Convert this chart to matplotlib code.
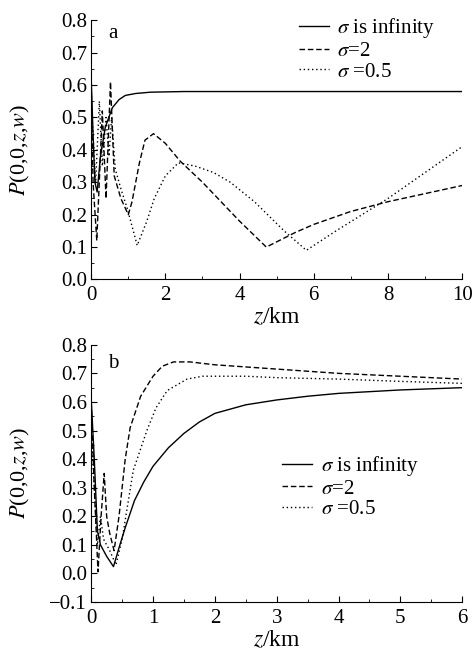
import numpy as np
import matplotlib
matplotlib.use("Agg")
import matplotlib.pyplot as plt
from matplotlib.ticker import MultipleLocator

plt.rcParams['font.family'] = ['Liberation Serif', 'DejaVu Serif']
plt.rcParams['mathtext.fontset'] = 'stix'

# panel a: z (km) and P values
za_inf = [0.0, 0.05, 0.1, 0.16, 0.25, 0.38, 0.57, 0.75, 0.92, 1.2, 1.6, 2.5, 4.0, 10.0]
pa_inf = [0.62, 0.45, 0.3, 0.27, 0.38, 0.47, 0.53, 0.555, 0.568, 0.574, 0.578, 0.58, 0.58, 0.58]

za_s2 = [0.0, 0.05, 0.15, 0.3, 0.4, 0.52, 0.62, 0.8, 1.0, 1.1, 1.3, 1.45, 1.68, 2.0,
         2.4, 3.0, 3.5, 4.0, 4.72, 5.5, 6.0, 7.0, 8.0, 9.0, 10.0]
pa_s2 = [0.6, 0.3, 0.12, 0.52, 0.25, 0.61, 0.32, 0.25, 0.2, 0.24, 0.36, 0.43, 0.45, 0.42,
         0.365, 0.3, 0.24, 0.18, 0.1, 0.145, 0.17, 0.21, 0.24, 0.265, 0.29]

za_s05 = [0.0, 0.12, 0.22, 0.3, 0.4, 0.48, 0.55, 0.65, 0.8, 0.97, 1.24, 1.5, 1.7, 2.0,
          2.35, 2.8, 3.3, 3.75, 4.4, 5.2, 5.8, 6.6, 8.0, 9.0, 10.0]
pa_s05 = [0.55, 0.3, 0.55, 0.35, 0.5, 0.38, 0.5, 0.34, 0.28, 0.22, 0.105, 0.18, 0.25, 0.32,
          0.36, 0.35, 0.33, 0.3, 0.24, 0.15, 0.09, 0.15, 0.25, 0.33, 0.41]

# panel b
zb_inf = [0.0, 0.05, 0.1, 0.15, 0.25, 0.36, 0.45, 0.55, 0.7, 0.85, 1.0, 1.25, 1.5, 1.75,
          2.0, 2.5, 3.0, 3.5, 4.0, 5.0, 6.0]
pb_inf = [0.61, 0.4, 0.15, 0.1, 0.06, 0.024, 0.09, 0.16, 0.255, 0.32, 0.375, 0.44, 0.49, 0.53,
          0.56, 0.59, 0.607, 0.62, 0.63, 0.642, 0.65]

zb_s2 = [0.0, 0.05, 0.11, 0.16, 0.21, 0.25, 0.3, 0.37, 0.45, 0.55, 0.63, 0.8, 1.0, 1.15,
         1.33, 1.6, 2.0, 3.0, 4.0, 5.0, 6.0]
pb_s2 = [0.6, 0.3, 0.006, 0.2, 0.35, 0.2, 0.14, 0.08, 0.2, 0.4, 0.51, 0.62, 0.69, 0.725,
         0.74, 0.74, 0.73, 0.715, 0.7, 0.69, 0.68]

zb_s05 = [0.0, 0.05, 0.1, 0.15, 0.2, 0.3, 0.4, 0.5, 0.68, 0.9, 1.05, 1.23, 1.55, 1.8,
          2.5, 3.0, 4.0, 5.0, 6.0]
pb_s05 = [0.5, 0.3, 0.1, 0.2, 0.12, 0.08, 0.03, 0.12, 0.36, 0.5, 0.58, 0.64, 0.68, 0.69,
          0.69, 0.685, 0.68, 0.672, 0.665]

labels = [r"$\sigma$ is infinity", r"$\sigma$=2", r"$\sigma$ =0.5"]

fig = plt.figure(figsize=(4.75, 6.53), dpi=100)
ax1 = fig.add_axes([0.192, 0.572, 0.781, 0.397])
ax2 = fig.add_axes([0.192, 0.078, 0.781, 0.394])

ls_dash = (0, (4, 2))
ls_dot = (0, (1, 2))
fs = 15
leg_kw = dict(frameon=False, fontsize=fs, handlelength=1.45, handletextpad=0.4,
              labelspacing=0.05, borderpad=0, borderaxespad=0, loc='upper left')

ax1.plot(za_inf, pa_inf, color='black', lw=1.0, label=labels[0])
ax1.plot(za_s2, pa_s2, color='black', lw=1.0, ls=ls_dash, label=labels[1])
ax1.plot(za_s05, pa_s05, color='black', lw=1.0, ls=ls_dot, label=labels[2])
ax1.set_xlim(0, 10)
ax1.set_ylim(0, 0.8)
ax1.xaxis.set_major_locator(MultipleLocator(2))
ax1.xaxis.set_minor_locator(MultipleLocator(1))
ax1.yaxis.set_major_locator(MultipleLocator(0.1))
ax1.yaxis.set_minor_locator(MultipleLocator(0.05))
ax1.text(0.45, 0.745, "a", fontsize=fs)
ax1.legend(bbox_to_anchor=(0.56, 1.015), **leg_kw)

ax2.plot(zb_inf, pb_inf, color='black', lw=1.0, label=labels[0])
ax2.plot(zb_s2, pb_s2, color='black', lw=1.0, ls=ls_dash, label=labels[1])
ax2.plot(zb_s05, pb_s05, color='black', lw=1.0, ls=ls_dot, label=labels[2])
ax2.set_xlim(0, 6)
ax2.set_ylim(-0.1, 0.8)
ax2.xaxis.set_major_locator(MultipleLocator(1))
ax2.xaxis.set_minor_locator(MultipleLocator(0.5))
ax2.yaxis.set_major_locator(MultipleLocator(0.1))
ax2.yaxis.set_minor_locator(MultipleLocator(0.05))
ax2.text(0.27, 0.72, "b", fontsize=fs)
ax2.legend(bbox_to_anchor=(0.515, 0.575), **leg_kw)

for ax in (ax1, ax2):
    ax.spines['top'].set_visible(False)
    ax.spines['right'].set_visible(False)
    ax.tick_params(which='both', direction='in', labelsize=fs)
    ax.tick_params(axis='x', pad=5)
    ax.tick_params(axis='y', pad=3)
    ax.tick_params(which='major', length=4)
    ax.tick_params(which='minor', length=2)
    ax.set_yticklabels([f"{v:.1f}" for v in ax.get_yticks()])
    ax.set_ylabel(r"$P$(0,0,$z$,$w$)", fontsize=16)
    ax.yaxis.set_label_coords(-0.16, 0.5)
    ax.set_xlabel(r"$z$/km", fontsize=17, labelpad=1)

ax1.set_xticklabels([f"{int(v)}" for v in ax1.get_xticks()])
ax2.set_xticklabels([f"{int(v)}" for v in ax2.get_xticks()])
ax2.set_yticklabels([f"{v:.1f}".replace("-", "\u2212") for v in ax2.get_yticks()])

fig.savefig("out.png", dpi=100)
